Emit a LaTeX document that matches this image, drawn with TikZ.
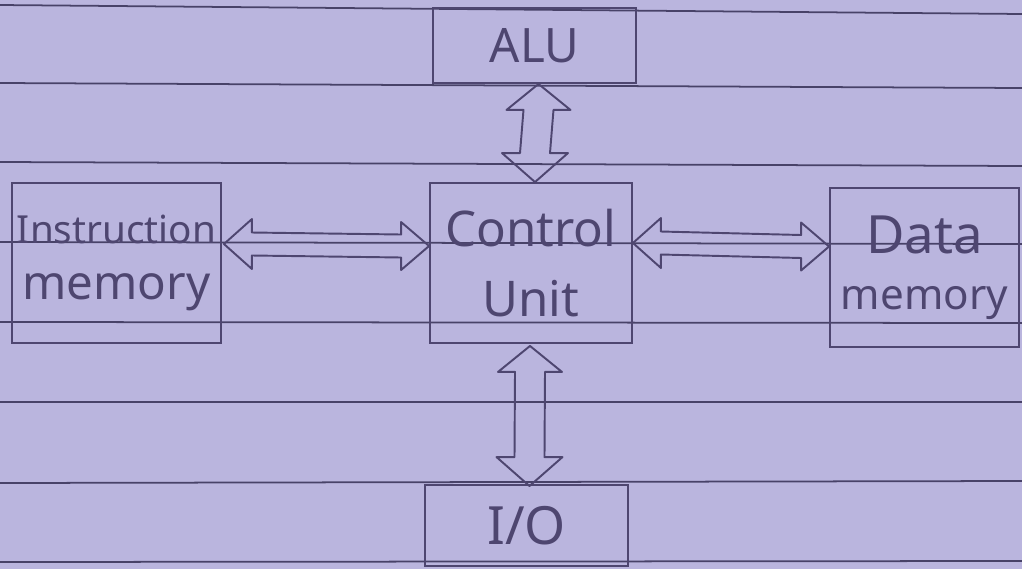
\documentclass[tikz,border=0pt]{standalone}
\usepackage{fontspec}
\setmainfont{Noto Sans}
\usetikzlibrary{calc}
\definecolor{paper}{RGB}{186,181,222}
\definecolor{ink}{RGB}{78,70,112}
\definecolor{rulecol}{RGB}{72,66,104}

% vertical hollow double arrow between two points (top, bottom)
\newcommand{\busV}[2]{%
  \draw[bus] let \p1=(#1), \p2=(#2) in
    (\x1,\y1) -- (\x1+0.64cm,\y1-0.52cm) -- (\x1+0.3cm,\y1-0.52cm)
    -- (\x2+0.3cm,\y2+0.58cm) -- (\x2+0.66cm,\y2+0.58cm) -- (\x2,\y2)
    -- (\x2-0.66cm,\y2+0.58cm) -- (\x2-0.3cm,\y2+0.58cm)
    -- (\x1-0.3cm,\y1-0.52cm) -- (\x1-0.64cm,\y1-0.52cm) -- cycle;}
% horizontal hollow double arrow between two points (left, right)
\newcommand{\busH}[2]{%
  \draw[bus] let \p1=(#1), \p2=(#2) in
    (\x1,\y1) -- (\x1+0.56cm,\y1+0.5cm) -- (\x1+0.56cm,\y1+0.23cm)
    -- (\x2-0.56cm,\y2+0.23cm) -- (\x2-0.56cm,\y2+0.48cm) -- (\x2,\y2)
    -- (\x2-0.56cm,\y2-0.48cm) -- (\x2-0.56cm,\y2-0.23cm)
    -- (\x1+0.56cm,\y1-0.23cm) -- (\x1+0.56cm,\y1-0.5cm) -- cycle;}

\begin{document}
\begin{tikzpicture}[x=0.02cm, y=-0.02cm,
  box/.style={draw=ink, line width=1.1pt, inner sep=0pt, align=center, text=ink,
    font=\fontsize{27}{32}\selectfont},
  paperline/.style={draw=rulecol, line width=1pt},
  bus/.style={draw=ink, line width=1.1pt, line join=round}
]
  % ruled paper
  \fill[paper] (0,0) rectangle (1022,569);
  \useasboundingbox (0,0) rectangle (1022,569);
  \foreach \yl/\yr in {5/14, 83/88, 162/166, 242/244, 322/323, 402/402, 483/481, 562/561}
    \draw[paperline] (0,\yl) -- (1022,\yr);

  % blocks
  \node[box, minimum width=4.06cm, minimum height=1.5cm] (alu) at (534.5,45.5) {ALU};
  \node[box, minimum width=4.04cm, minimum height=3.2cm, font=\fontsize{28}{40}\selectfont]
    (cu) at (531,263) {Control\\Unit};
  \node[box, minimum width=4.18cm, minimum height=3.2cm] (imem) at (116.5,263)
    {{\fontsize{22}{32}\selectfont Instruction}\\memory};
  \node[box, minimum width=3.78cm, minimum height=3.18cm, font=\fontsize{24}{32}\selectfont]
    (dmem) at (924.5,267.5) {{\fontsize{30}{32}\selectfont Data}\\memory};
  \node[box, minimum width=4.06cm, minimum height=1.62cm, font=\fontsize{30}{36}\selectfont]
    (io) at (526.5,525.5) {I/O};

  % buses
  \busV{$(alu.south)+(4,0)$}{$(cu.north)+(4,0)$}
  \busV{$(cu.south)+(-1,2)$}{$(io.north)+(3,2)$}
  \busH{$(imem.east)+(2,-19)$}{$(cu.west)+(0,-17)$}
  \busH{$(cu.east)+(0,-20)$}{$(dmem.west)+(0,-21)$}
\end{tikzpicture}
\end{document}
